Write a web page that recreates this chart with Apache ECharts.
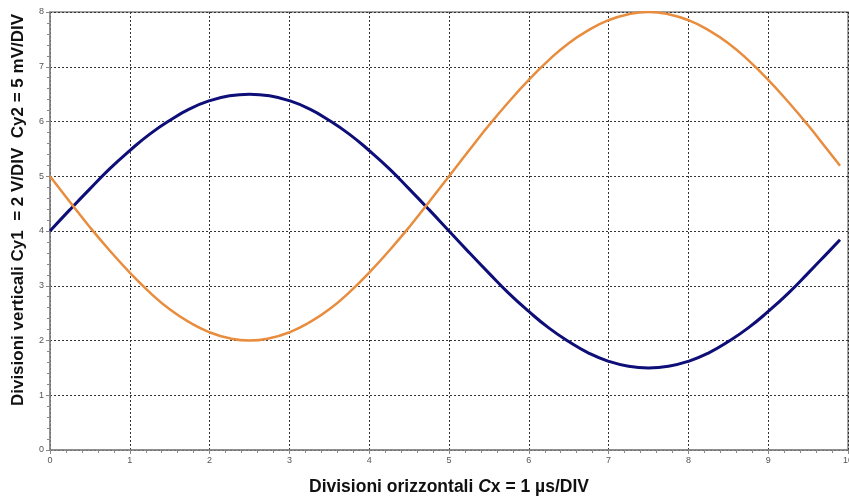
<!DOCTYPE html>
<html>
<head>
<meta charset="utf-8">
<title>Oscilloscopio</title>
<script src="https://cdn.jsdelivr.net/npm/echarts@6/dist/echarts.min.js"></script>
<style>
  html, body { margin: 0; padding: 0; background: #fff; }
  #chart { width: 849px; height: 497px; }
</style>
</head>
<body>
<div id="chart"></div>
<script>
// --- dati (divisioni) ---
const divX = [0, 0.25, 0.5, 0.75, 1, 1.25, 1.5, 1.75, 2, 2.25, 2.5, 2.75, 3, 3.25, 3.5, 3.75, 4, 4.25, 4.5, 4.75,
  5, 5.25, 5.5, 5.75, 6, 6.25, 6.5, 6.75, 7, 7.25, 7.5, 7.75, 8, 8.25, 8.5, 8.75, 9, 9.25, 9.5, 9.75, 9.9];
const cy1 = [4.0, 4.39, 4.77, 5.14, 5.47, 5.77, 6.02, 6.23, 6.38, 6.47, 6.5, 6.47, 6.38, 6.23, 6.02, 5.77, 5.47, 5.14, 4.77, 4.39,
  4.0, 3.61, 3.23, 2.86, 2.53, 2.23, 1.98, 1.77, 1.62, 1.53, 1.5, 1.53, 1.62, 1.77, 1.98, 2.23, 2.53, 2.86, 3.23, 3.61, 3.84];
const cy2 = [5.0, 4.53, 4.07, 3.64, 3.24, 2.88, 2.57, 2.33, 2.15, 2.04, 2.0, 2.04, 2.15, 2.33, 2.57, 2.88, 3.24, 3.64, 4.07, 4.53,
  5.0, 5.47, 5.93, 6.36, 6.76, 7.12, 7.43, 7.67, 7.85, 7.96, 8.0, 7.96, 7.85, 7.67, 7.43, 7.12, 6.76, 6.36, 5.93, 5.47, 5.19];

const COLORS = {
  blue: '#0e0e78',
  orange: '#e88c3e',
  grid: '#333',
  axis: '#888',
  label: '#555'
};

const chart = echarts.init(document.getElementById('chart'));

const nameStyle = { color: '#111', fontSize: 17.5, fontWeight: 'bold', fontFamily: 'Liberation Sans' };

const axisCommon = {
  type: 'value',
  interval: 1,
  axisLine: { show: true, lineStyle: { color: COLORS.axis, width: 1.5 } },
  axisTick: { show: true, length: 4, lineStyle: { color: COLORS.axis } },
  minorTick: { show: true, splitNumber: 5, length: 3, lineStyle: { color: COLORS.axis } },
  splitLine: { show: true, lineStyle: { color: COLORS.grid, type: [2, 2], width: 1 } },
  axisLabel: { color: COLORS.label, fontSize: 9, fontFamily: 'Liberation Sans', margin: 6 },
  nameLocation: 'middle'
};

chart.setOption({
  backgroundColor: '#fff',
  animation: false,
  grid: {
    left: 50, right: 1, top: 12, bottom: 47,
    outerBoundsMode: 'none',
    show: true, borderColor: COLORS.axis, borderWidth: 1.5
  },
  xAxis: Object.assign({}, axisCommon, {
    min: 0, max: 10,
    name: 'Divisioni orizzontali {i|C}x = 1 µs/DIV',
    nameGap: 28,
    nameTextStyle: Object.assign({}, nameStyle, {
      rich: { i: Object.assign({}, nameStyle, { fontStyle: 'italic' }) }
    })
  }),
  yAxis: Object.assign({}, axisCommon, {
    min: 0, max: 8,
    name: 'Divisioni verticali Cy1  = 2 V/DIV  Cy2 = 5 mV/DIV',
    nameGap: 23,
    nameTextStyle: Object.assign({}, nameStyle, { fontSize: 17, padding: [0, 0, 0, 42] })
  }),
  series: [
    {
      name: 'Cy1', type: 'line', smooth: true, symbol: 'none',
      data: divX.map((x, i) => [x, cy1[i]]),
      lineStyle: { color: COLORS.blue, width: 3 }
    },
    {
      name: 'Cy2', type: 'line', smooth: true, symbol: 'none',
      data: divX.map((x, i) => [x, cy2[i]]),
      lineStyle: { color: COLORS.orange, width: 2.5 }
    }
  ]
});
</script>
</body>
</html>
